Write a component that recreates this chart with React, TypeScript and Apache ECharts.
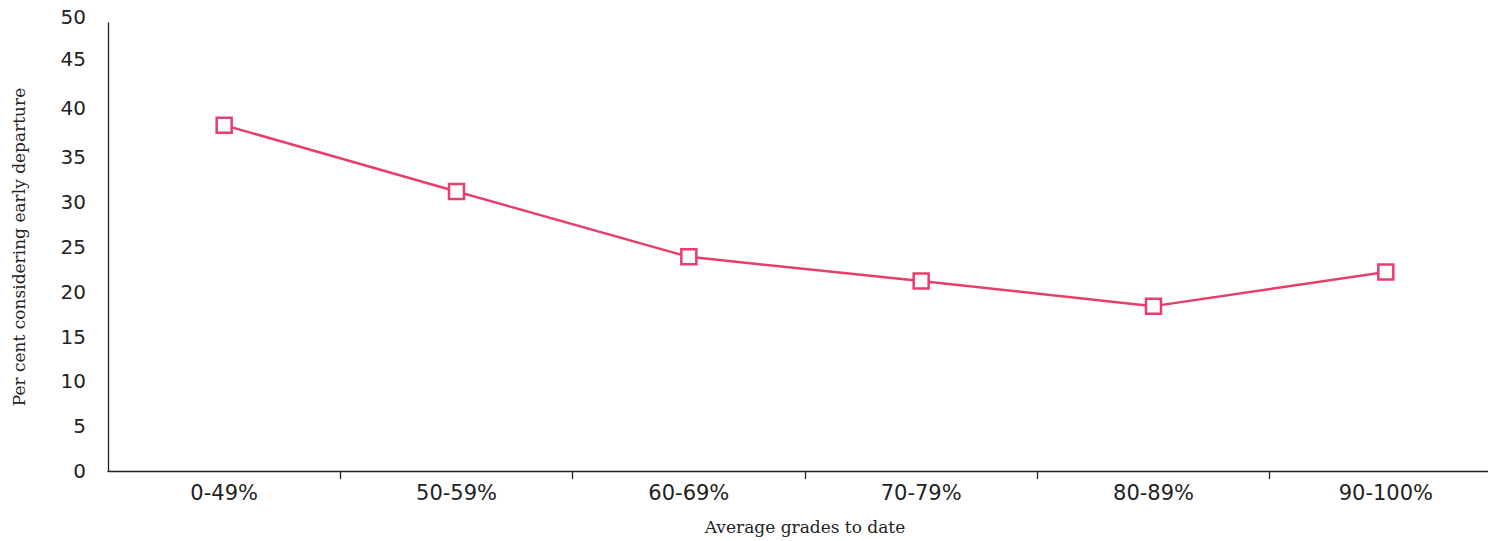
import React, { useEffect, useRef } from "react";
import * as echarts from "echarts";

const categories = ["0-49%", "50-59%", "60-69%", "70-79%", "80-89%", "90-100%"];
const values = [38.6, 31.2, 23.9, 21.2, 18.4, 22.2];
const yTicks = [0, 5, 10, 15, 20, 25, 30, 35, 40, 45, 50];
const xTitle = "Average grades to date";
const yTitle = "Per cent considering early departure";

const PINK = "#e83e6c";
const INK = "#222222";

export default function App() {
  const ref = useRef<HTMLDivElement>(null);
  useEffect(() => {
    document.body.style.margin = "0";
    if (!ref.current) return;
    const chart = echarts.init(ref.current, null, { renderer: "svg" });
    const labelShift: Record<number, number> = { 40: 10, 45: 18, 50: 12 };
    const yFont = 20;
    chart.setOption({
      animation: false,
      grid: {
        left: 108,
        top: 23,
        bottom: 70,
        right: -14,
        containLabel: false,
        outerBoundsMode: "none",
      },
      xAxis: {
        type: "category",
        data: categories,
        boundaryGap: true,
        name: xTitle,
        nameLocation: "middle",
        nameGap: 47,
        nameTextStyle: { fontFamily: "DejaVu Serif", fontSize: 17, color: INK },
        axisLine: { lineStyle: { color: INK, width: 1.3 } },
        axisTick: {
          show: true,
          length: 8,
          interval: (i: number) => i !== 0,
          lineStyle: { color: INK, width: 1.3 },
        },
        axisLabel: { fontFamily: "DejaVu Sans", fontSize: 21, color: INK, margin: 11 },
        splitLine: { show: false },
      },
      yAxis: {
        type: "value",
        min: yTicks[0],
        max: yTicks[yTicks.length - 1],
        interval: 5,
        name: yTitle,
        nameLocation: "middle",
        nameGap: 81,
        nameRotate: 90,
        nameTextStyle: { fontFamily: "DejaVu Serif", fontSize: 17, color: INK },
        axisLine: { show: true, lineStyle: { color: INK, width: 1.3 } },
        axisTick: { show: false },
        splitLine: { show: false },
        axisLabel: {
          fontFamily: "DejaVu Sans",
          fontSize: yFont,
          color: INK,
          margin: 22,
          formatter: (v: number) => (labelShift[v] ? `{s${v}|${v}}` : `${v}`),
          rich: {
            s40: { fontFamily: "DejaVu Sans", fontSize: yFont, color: INK, padding: [0, 0, labelShift[40], 0] },
            s45: { fontFamily: "DejaVu Sans", fontSize: yFont, color: INK, padding: [0, 0, labelShift[45], 0] },
            s50: { fontFamily: "DejaVu Sans", fontSize: yFont, color: INK, padding: [0, 0, labelShift[50], 0] },
          },
        },
      },
      series: [
        {
          type: "line",
          data: values,
          symbol: "rect",
          symbolSize: 15,
          lineStyle: { color: PINK, width: 2.5 },
          itemStyle: { color: "#ffffff", borderColor: PINK, borderWidth: 2.5 },
          z: 3,
        },
      ],
    });
    return () => chart.dispose();
  }, []);
  return <div ref={ref} style={{ width: 1488, height: 541 }} />;
}
